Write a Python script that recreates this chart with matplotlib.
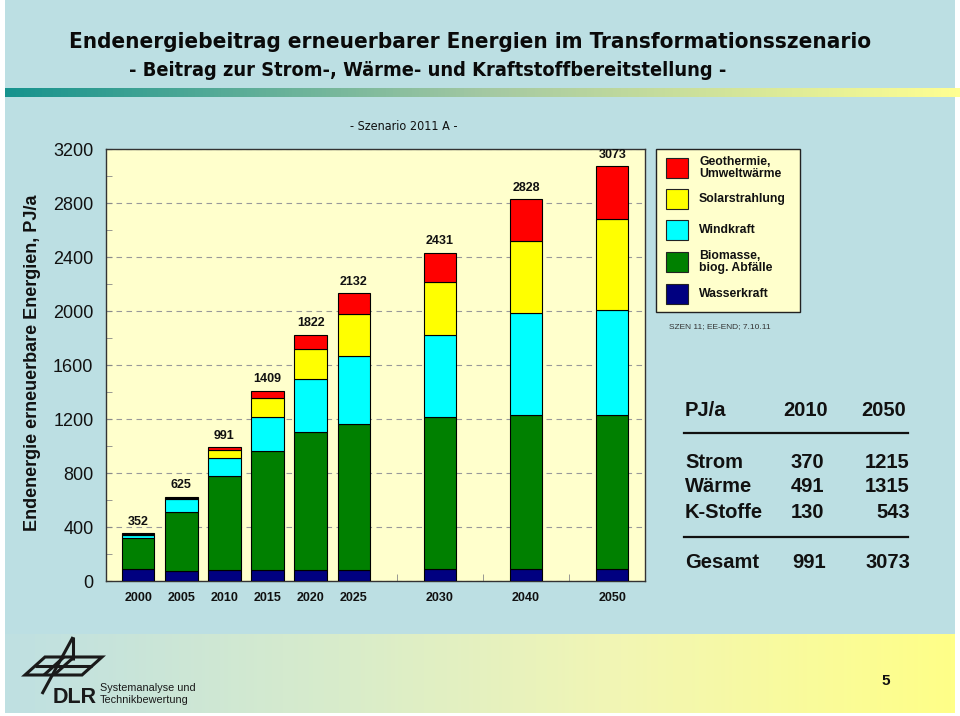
import numpy as np
import matplotlib
matplotlib.use("Agg")
import matplotlib.pyplot as plt
from matplotlib import font_manager
from matplotlib.colors import LinearSegmentedColormap
from matplotlib.patches import Rectangle, Polygon
from matplotlib.ticker import MultipleLocator, FixedLocator

plt.rcParams['font.family'] = ['Liberation Sans', 'DejaVu Sans']

# data (PJ/a)
years = ['2000', '2005', '2010', '2015', '2020', '2025', '2030', '2040', '2050']
slots = [0, 1, 2, 3, 4, 5, 7, 9, 11]
wasser = [90, 74, 79, 79, 82, 82, 87, 87, 87]
biomasse = [229, 436, 701, 884, 1019, 1078, 1125, 1145, 1145]
wind = [20, 96, 133, 252, 399, 510, 609, 750, 778]
solar = [6, 10, 59, 141, 222, 307, 396, 535, 675]
geo = [7, 9, 19, 53, 100, 155, 214, 311, 388]
totals = [352, 625, 991, 1409, 1822, 2132, 2431, 2828, 3073]

series_names = ['Wasserkraft', 'Biomasse,\nbiog. Abfälle', 'Windkraft',
                'Solarstrahlung', 'Geothermie,\nUmweltwärme']
series_colors = ['#000080', '#008000', '#00FFFF', '#FFFF00', '#FF0000']

table_rows = ['Strom', 'Wärme', 'K-Stoffe']
table_2010 = [370, 491, 130]
table_2050 = [1215, 1315, 543]
gesamt = [991, 3073]

# narrow face for the headline if one is installed
narrow = [f.name for f in font_manager.fontManager.ttflist
          if 'Narrow' in f.name or 'Condensed' in f.name or f.stretch == 'condensed']
if narrow:
    head = dict(family=[narrow[0], 'Liberation Sans'], fontstretch='condensed')
    hs = (16.1, 14.3, 9)
else:
    head = dict(family=['Liberation Sans'])
    hs = (17, 13.5, 9)

W, H = 960, 716
fig = plt.figure(figsize=(W / 100, H / 100), dpi=100)
fig.patch.set_facecolor('white')

# background layer in pixel coordinates
bg = fig.add_axes([0, 0, 1, 1], zorder=0)
bg.axis('off')
bg.add_patch(Rectangle((5, 0), 950, 713, facecolor='#BCDFE3', edgecolor='none'))

strip_cmap = LinearSegmentedColormap.from_list(
    'strip', [(0, '#16938E'), (0.5, '#A3C8A2'), (1, '#FFFF92')])
bg.imshow(np.linspace(0, 1, 256)[None, :], cmap=strip_cmap, aspect='auto',
          extent=(5, 960, 97, 88), zorder=1)
band_cmap = LinearSegmentedColormap.from_list(
    'band', [(0, '#BFE0E2'), (0.35, '#D8ECCB'), (0.65, '#F2F6B4'), (1, '#FFFF88')])
bg.imshow(np.linspace(0, 1, 256)[None, :], cmap=band_cmap, aspect='auto',
          extent=(5, 955, 713, 634), zorder=1)
bg.set_xlim(0, W)
bg.set_ylim(H, 0)

# titles
bg.text(470, 42, 'Endenergiebeitrag erneuerbarer Energien im Transformationsszenario',
        ha='center', va='center', fontsize=hs[0], fontweight='bold', color='#0a0a0a', **head)
bg.text(428, 70, '- Beitrag zur Strom-, Wärme- und Kraftstoffbereitstellung -',
        ha='center', va='center', fontsize=hs[1], fontweight='bold', color='#0a0a0a', **head)
bg.text(404, 127, '- Szenario 2011 A -', ha='center', va='center', fontsize=hs[2],
        color='#111111', **head)

# y label
bg.text(33, 363, 'Endenergie erneuerbare Energien, PJ/a', rotation=90,
        ha='center', va='center', fontsize=13, fontweight='bold', color='#111111')

# chart
ax = fig.add_axes([106 / W, 1 - 581 / H, (645 - 106) / W, (581 - 149) / H], zorder=2)
ax.set_facecolor('#FFFFCC')
bottom = np.zeros(len(slots))
for vals, name, col in zip([wasser, biomasse, wind, solar, geo], series_names, series_colors):
    ax.bar(slots, vals, width=0.75, bottom=bottom, color=col, edgecolor='black',
           linewidth=0.8, label=name, zorder=3)
    bottom += np.array(vals)
for x, t in zip(slots, totals):
    ax.annotate(str(t), (x, t), xytext=(0, 4), textcoords='offset points',
                ha='center', va='bottom', fontsize=9, fontweight='bold', color='#111111')

ax.set_xlim(-0.75, 11.76)
ax.set_ylim(0, 3200)
ax.set_xticks(slots)
ax.set_xticklabels(years, fontsize=9, fontweight='bold', color='#111111')
ax.xaxis.set_minor_locator(FixedLocator([6, 8, 10]))
ax.tick_params(axis='x', which='major', length=0, pad=8)
ax.tick_params(axis='x', which='minor', direction='in', length=5, color='#888888')
ax.yaxis.set_major_locator(MultipleLocator(400))
ax.yaxis.set_minor_locator(MultipleLocator(200))
ax.tick_params(axis='y', which='both', direction='in', length=4, color='#888888',
               labelsize=13, pad=9, labelcolor='#111111')
ax.grid(axis='y', which='major', color='#999999', linestyle=(0, (5, 4)), linewidth=0.8, zorder=1)
for sp in ax.spines.values():
    sp.set_color('#333333')
    sp.set_linewidth(1.0)

# legend box
bg.add_patch(Rectangle((656, 149), 144, 163, facecolor='#FFFFCC', edgecolor='#222222',
                       linewidth=1.0, zorder=2))
row_y = [294, 262, 230, 199, 168]
for yy, name, col in zip(row_y, series_names, series_colors):
    bg.add_patch(Rectangle((666, yy - 10), 22, 20, facecolor=col, edgecolor='#222222',
                           linewidth=0.8, zorder=3))
    bg.text(699, yy, name, ha='left', va='center', fontsize=8.8, fontweight='bold',
            linespacing=0.9, color='#111111', zorder=3)
bg.text(669, 327, 'SZEN 11; EE-END; 7.10.11', ha='left', va='center', fontsize=6,
        color='#333333')

# summary table
tkw = dict(fontsize=14.5, fontweight='bold', color='#111111', va='center')
bg.text(685, 411, 'PJ/a', ha='left', **tkw)
bg.text(828, 411, '2010', ha='right', **tkw)
bg.text(906, 411, '2050', ha='right', **tkw)
bg.plot([684, 908], [433, 433], color='#111111', linewidth=1.6)
for i, (name, a, b) in enumerate(zip(table_rows, table_2010, table_2050)):
    yy = 462 + 25 * i
    bg.text(685, yy, name, ha='left', **tkw)
    bg.text(824, yy, str(a), ha='right', **tkw)
    bg.text(910, yy, str(b), ha='right', **tkw)
bg.plot([684, 908], [537, 537], color='#111111', linewidth=1.6)
bg.text(685, 563, 'Gesamt', ha='left', **tkw)
bg.text(826, 563, str(gesamt[0]), ha='right', **tkw)
bg.text(910, 563, str(gesamt[1]), ha='right', **tkw)

# footer: logo and page number
lk = dict(color='#1a1a1a', linewidth=2.2, solid_capstyle='butt', zorder=3)
bg.add_patch(Polygon([(25, 675), (45, 657), (102, 657), (82, 675)], closed=True,
                     fill=False, edgecolor='#1a1a1a', linewidth=2.2, zorder=3))
bg.plot([35, 92], [666, 666], **lk)
bg.plot([54, 74], [675, 657], **lk)
bg.plot([44, 64], [675, 657], **lk)
bg.plot([73, 42], [637, 694], **lk)
bg.plot([73, 73], [637, 660], **lk)
bg.text(53, 703, 'DLR', ha='left', va='baseline', fontsize=15.5, fontweight='bold',
        color='#1a1a1a')
bg.text(100, 688, 'Systemanalyse und', ha='left', va='center', fontsize=7.8, color='#1a1a1a')
bg.text(100, 700, 'Technikbewertung', ha='left', va='center', fontsize=7.8, color='#1a1a1a')
bg.text(886, 681, '5', ha='center', va='center', fontsize=11, fontweight='bold',
        color='#111111')

fig.savefig('out.png', dpi=100, facecolor=fig.get_facecolor())
